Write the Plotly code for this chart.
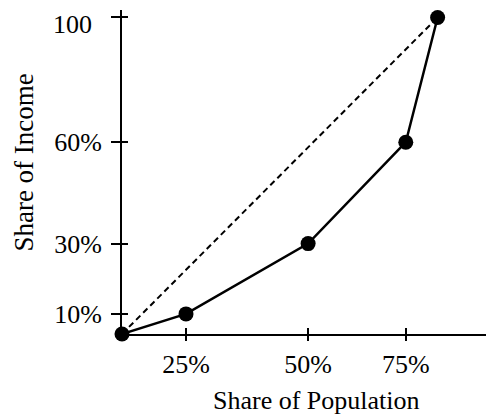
import plotly.graph_objects as go

# Positions (axis units 0-100 across each axis line)
pop_pos = [0, 17.3, 50.3, 76.7, 85.3]
income_pos = [0, 6.2, 27.9, 59.2, 97.7]

x_tick_vals = [17.3, 50.3, 76.7]
x_tick_text = ["25%", "50%", "75%"]
y_tick_vals = [6.2, 27.9, 59.2, 97.7]
y_tick_text = ["10%", "30%", "60%", "100"]

FONT = "Liberation Serif"

fig = go.Figure()
# equality line (dashed)
fig.add_trace(go.Scatter(
    x=[pop_pos[0], pop_pos[-1]], y=[income_pos[0], income_pos[-1]],
    mode="lines", line=dict(color="black", width=2, dash="6px,4px"),
    hoverinfo="skip", showlegend=False))
# Lorenz curve
fig.add_trace(go.Scatter(
    x=pop_pos, y=income_pos, mode="lines+markers",
    line=dict(color="black", width=2.5),
    marker=dict(color="black", size=15),
    showlegend=False, cliponaxis=False))

# the top label ("100") sits slightly below its tick in the reference,
# so it is drawn as an annotation anchored on that tick value
y_tick_labels_shown = y_tick_text[:-1] + [""]

# page body has an 8px margin, so the figure is sized/positioned to compensate
fig.update_layout(
    width=486, height=411,
    margin=dict(l=114, r=2, t=2, b=85, autoexpand=False),
    paper_bgcolor="white", plot_bgcolor="white",
    font=dict(family=FONT, size=26, color="black"),
    showlegend=False,
    xaxis=dict(range=[0, 100], showgrid=False, zeroline=False, automargin=False,
               showline=True, linecolor="black", linewidth=2,
               tickmode="array", tickvals=x_tick_vals, ticktext=x_tick_text,
               ticks="outside", ticklen=5, tickwidth=2, tickcolor="black",
               ticklabelstandoff=1,
               tickfont=dict(family=FONT, size=26, color="black")),
    yaxis=dict(range=[0, 100], showgrid=False, zeroline=False, automargin=False,
               showline=True, linecolor="black", linewidth=2,
               tickmode="array", tickvals=y_tick_vals, ticktext=y_tick_labels_shown,
               ticks="outside", ticklen=9, tickwidth=2, tickcolor="black",
               ticklabelstandoff=4,
               tickfont=dict(family=FONT, size=26, color="black")),
    xaxis2=dict(range=[0, 100], overlaying="x", showgrid=False, zeroline=False,
                automargin=False,
                showline=False, tickmode="array", tickvals=x_tick_vals,
                ticks="inside", ticklen=6, tickwidth=2, tickcolor="black",
                showticklabels=False, side="bottom"),
    yaxis2=dict(range=[0, 100], overlaying="y", showgrid=False, zeroline=False,
                automargin=False,
                showline=False, tickmode="array", tickvals=y_tick_vals,
                ticks="inside", ticklen=6, tickwidth=2, tickcolor="black",
                showticklabels=False, side="left"),
    annotations=[
        dict(text=y_tick_text[-1], xref="paper", yref="y",
             x=0, y=y_tick_vals[-1], xshift=-28, yshift=-7,
             xanchor="right", yanchor="middle", showarrow=False,
             font=dict(family=FONT, size=26, color="black")),
        dict(text="Share of Population", xref="paper", yref="paper",
             x=0.526, y=-0.204, xanchor="center", yanchor="middle",
             showarrow=False, font=dict(family=FONT, size=26, color="black")),
        dict(text="Share of Income", xref="paper", yref="paper",
             x=(24 - 122) / 370, y=0.529, xanchor="center", yanchor="middle",
             textangle=-90, showarrow=False,
             font=dict(family=FONT, size=27, color="black")),
    ],
)
# dummy trace to activate the overlay axes
fig.add_trace(go.Scatter(x=[None], y=[None], xaxis="x2", yaxis="y2",
                         showlegend=False, hoverinfo="skip"))

fig.write_html("out.html")
